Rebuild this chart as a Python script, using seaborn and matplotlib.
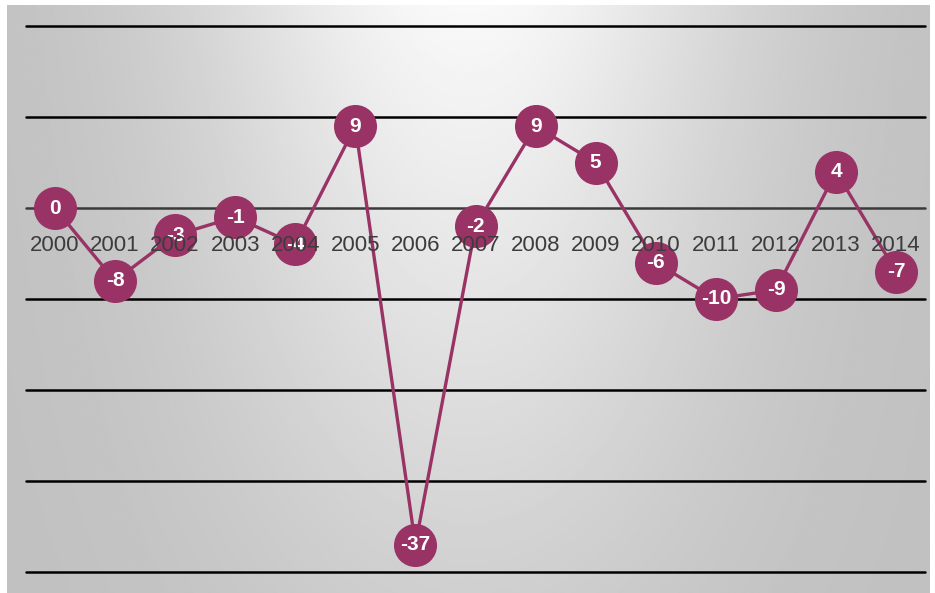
import numpy as np
import pandas as pd
import matplotlib
matplotlib.use("Agg")
import matplotlib.pyplot as plt
import seaborn as sns

years = ["2000", "2001", "2002", "2003", "2004", "2005", "2006", "2007",
         "2008", "2009", "2010", "2011", "2012", "2013", "2014"]
values = [0, -8, -3, -1, -4, 9, -37, -2, 9, 5, -6, -10, -9, 4, -7]
gridlevels = [20, 10, 0, -10, -20, -30, -40]

plum = "#993366"

sns.set_theme(style="white")
plt.rcParams["font.family"] = ["Liberation Sans", "DejaVu Sans"]

W, H = 935, 593
fig = plt.figure(figsize=(W / 100, H / 100), dpi=100)
fig.patch.set_facecolor("white")

# grey panel with a soft gradient, lightest at the top centre
bg = fig.add_axes([7 / W, 0, 923 / W, 588 / H])
gx, gy = np.meshgrid(np.linspace(-1, 1, 400), np.linspace(0, 1, 250))
glow = np.exp(-(gx / 0.6) ** 2) * (1 - 0.72 * gy)
shade = 0.75 + 0.225 * glow
bg.imshow(shade, cmap="gray", vmin=0, vmax=1, aspect="auto",
          extent=[0, 1, 0, 1], origin="upper")
bg.set_axis_off()

ax = fig.add_axes([26 / W, (H - 572) / H, 899 / W, 546 / H])
ax.patch.set_alpha(0)

df = pd.DataFrame({"pos": range(len(years)), "value": values})
sns.lineplot(data=df, x="pos", y="value", ax=ax, color=plum, linewidth=2.4,
             marker="o", markersize=31, markeredgewidth=0, zorder=4)

for lv in gridlevels:
    ax.axhline(lv, color="#3a3a3a" if lv == 0 else "black", lw=1.8,
               zorder=1, clip_on=False)

for i, v in enumerate(values):
    ax.text(i, v, str(v), ha="center", va="center", fontsize=15,
            fontweight="bold", color="white", zorder=5)

# year labels sit on the zero line, drawn over the markers like the original
for i, yr in enumerate(years):
    ax.annotate(yr, (i, 0), xytext=(0, -27), textcoords="offset points",
                ha="center", va="center", fontsize=16, color="#3c3c3c",
                zorder=6)

ax.set_xlim(-0.48, len(years) - 1 + 0.48)
ax.set_ylim(-40, 20)
ax.set_xticks([])
ax.set_yticks([])
ax.set_xlabel("")
ax.set_ylabel("")
for s in ax.spines.values():
    s.set_visible(False)

fig.savefig("out.png", dpi=100)
